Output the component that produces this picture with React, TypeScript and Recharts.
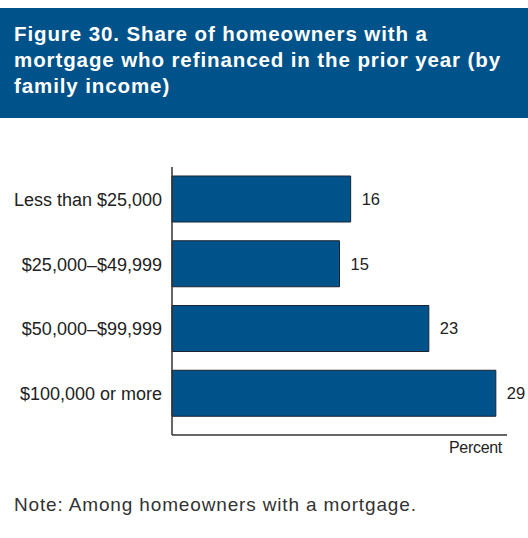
import React from 'react';
import { BarChart, Bar, XAxis, YAxis, LabelList } from 'recharts';

const categories = ['Less than $25,000', '$25,000–$49,999', '$50,000–$99,999', '$100,000 or more'];
const shares = [16, 15, 23, 29];

const titleLines = [
  'Figure 30. Share of homeowners with a',
  'mortgage who refinanced in the prior year (by',
  'family income)',
];
const note = 'Note: Among homeowners with a mortgage.';
const xLabel = 'Percent';

const font = '"Liberation Sans", Arial, sans-serif';
const navy = '#00538a';

const App: React.FC = () => {
  const data = categories.map((name, i) => ({ name, value: shares[i] }));

  return (
    <div style={{ position: 'absolute', left: 0, top: 0, width: 528, height: 538, background: '#fff', fontFamily: font }}>
      <div
        style={{
          position: 'absolute', left: 0, top: 8, width: 528, height: 110,
          background: navy, color: '#fff', fontWeight: 700, fontSize: 20.5,
          letterSpacing: 0.9, lineHeight: '26px', padding: '13px 0 0 14px', boxSizing: 'border-box',
        }}
      >
        {titleLines.map((l, i) => <div key={i}>{l}</div>)}
      </div>

      <div style={{ position: 'absolute', left: 0, top: 140 }}>
        <BarChart
          layout="vertical"
          width={528}
          height={300}
          data={data}
          margin={{ top: 27, right: 21, bottom: 3, left: 0 }}
        >
          <XAxis
            type="number"
            domain={[0, 30]}
            height={2}
            tick={false}
            tickLine={false}
            axisLine={{ stroke: '#333', strokeWidth: 1.5 }}
          />
          <YAxis
            type="category"
            dataKey="name"
            width={172}
            padding={{ top: 0, bottom: 9 }}
            tickLine={false}
            tickMargin={4}
            axisLine={{ stroke: '#333', strokeWidth: 1.5 }}
            tick={{ fill: '#222', fontSize: 18, fontFamily: font }}
          />
          <Bar dataKey="value" fill={navy} stroke="#1b2233" strokeWidth={1} barSize={46} isAnimationActive={false}>
            <LabelList dataKey="value" position="right" offset={11} fill="#222" fontSize={16.5} fontFamily={font} />
          </Bar>
        </BarChart>
      </div>

      <div style={{ position: 'absolute', right: 26, top: 438, fontSize: 16, color: '#222', lineHeight: '20px', letterSpacing: -0.3 }}>
        {xLabel}
      </div>

      <div style={{ position: 'absolute', left: 14, top: 493, fontSize: 19, color: '#333', letterSpacing: 0.85, lineHeight: '24px' }}>
        {note}
      </div>
    </div>
  );
};

export default App;
